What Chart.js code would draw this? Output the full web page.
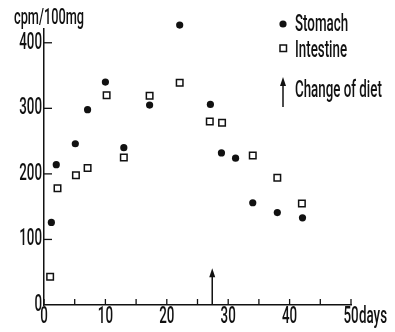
<!DOCTYPE html>
<html>
<head>
<meta charset="utf-8">
<script src="https://cdn.jsdelivr.net/npm/chart.js@4.4.0/dist/chart.umd.min.js"></script>
<style>
  body { margin: 0; background: #fff; }
</style>
</head>
<body>
<canvas id="myChart" width="395" height="332"></canvas>
<script>
// values
var stomachDays = [1.2, 2, 5.1, 7.1, 10, 13, 17.2, 22.1, 27.1, 28.9, 31.2, 34, 38, 42.1];
var stomachCpm  = [126, 214, 246, 298, 340, 240, 305, 427, 306, 232, 224, 156, 141, 133];
var intestineDays = [1, 2.2, 5.2, 7.1, 10.2, 13, 17.2, 22.1, 27, 29, 34, 38, 42];
var intestineCpm  = [43, 178, 198, 209, 320, 225, 319, 339, 280, 278, 228, 194, 155];

var yTicks = [0, 100, 200, 300, 400];
var xTicks = [0, 5, 10, 15, 20, 25, 30, 35, 40, 45, 50];
var xLabelled = [0, 10, 20, 30, 40, 50];

var dietChangeDay = 27.4;
var dietArrowTop = 56;

var yTitle = 'cpm/100mg';
var xUnit = 'days';
var legendLabels = ['Stomach', 'Intestine', 'Change of diet'];

var ink = '#111';

function toPoints(xs, ys) {
  return xs.map((x, i) => ({ x: x, y: ys[i] }));
}

// condensed text, the figure uses a narrow typeface
function narrowText(ctx, text, x, y, size, align) {
  ctx.save();
  ctx.font = '500 ' + size + 'px Roboto';
  ctx.fillStyle = ink;
  ctx.textBaseline = 'middle';
  ctx.textAlign = align;
  ctx.translate(x, y);
  ctx.scale(0.58, 1);
  ctx.fillText(text, 0, 0);
  ctx.restore();
}

function arrow(ctx, x, yBottom, yTop) {
  ctx.save();
  ctx.strokeStyle = ink;
  ctx.fillStyle = ink;
  ctx.lineWidth = 1.5;
  ctx.beginPath();
  ctx.moveTo(x, yBottom);
  ctx.lineTo(x, yTop + 6);
  ctx.stroke();
  ctx.beginPath();
  ctx.moveTo(x, yTop);
  ctx.lineTo(x - 3, yTop + 9);
  ctx.lineTo(x + 3, yTop + 9);
  ctx.closePath();
  ctx.fill();
  ctx.restore();
}

var figurePlugin = {
  id: 'figure',
  afterDraw(chart) {
    var ctx = chart.ctx;
    var xs = chart.scales.x, ys = chart.scales.y;
    var x0 = xs.getPixelForValue(0), y0 = ys.getPixelForValue(0);

    // inward tick marks
    ctx.save();
    ctx.strokeStyle = ink;
    ctx.lineWidth = 1.3;
    xTicks.forEach(v => {
      var px = xs.getPixelForValue(v);
      ctx.beginPath(); ctx.moveTo(px, y0); ctx.lineTo(px, y0 - 6); ctx.stroke();
    });
    yTicks.forEach(v => {
      if (v === 0) return;
      var py = ys.getPixelForValue(v);
      ctx.beginPath(); ctx.moveTo(x0, py); ctx.lineTo(x0 + 8, py); ctx.stroke();
    });
    ctx.restore();

    // tick labels
    yTicks.forEach(v => narrowText(ctx, String(v), x0 - 2, ys.getPixelForValue(v), 23, 'right'));
    xLabelled.forEach(v => narrowText(ctx, String(v), xs.getPixelForValue(v), y0 + 12, 23, 'center'));
    narrowText(ctx, xUnit, xs.getPixelForValue(50) + 8, y0 + 12, 23, 'left');
    narrowText(ctx, yTitle, 14, 18, 22, 'left');

    // change of diet arrow
    arrow(ctx, xs.getPixelForValue(dietChangeDay), y0, ys.getPixelForValue(dietArrowTop));

    // legend
    ctx.save();
    ctx.fillStyle = ink;
    ctx.beginPath(); ctx.arc(283, 24, 3.6, 0, Math.PI * 2); ctx.fill();
    ctx.strokeStyle = ink; ctx.lineWidth = 1.5;
    ctx.strokeRect(280, 45, 6.5, 6.5);
    ctx.restore();
    arrow(ctx, 283, 107, 77);
    narrowText(ctx, legendLabels[0], 295, 25, 23, 'left');
    narrowText(ctx, legendLabels[1], 295, 51, 23, 'left');
    narrowText(ctx, legendLabels[2], 295, 91, 23, 'left');
  }
};

var ctx = document.getElementById('myChart').getContext('2d');
var chart = new Chart(ctx, {
  type: 'scatter',
  data: {
    datasets: [{
      label: legendLabels[0],
      data: toPoints(stomachDays, stomachCpm),
      pointStyle: 'circle',
      pointRadius: 3.6,
      backgroundColor: ink,
      borderColor: ink,
      borderWidth: 0
    }, {
      label: legendLabels[1],
      data: toPoints(intestineDays, intestineCpm),
      pointStyle: 'rect',
      pointRadius: 4.6,
      backgroundColor: '#fff',
      borderColor: ink,
      borderWidth: 1.5
    }]
  },
  options: {
    responsive: false,
    animation: false,
    clip: false,
    layout: { padding: { top: 29, right: 44, left: 0, bottom: 0 } },
    plugins: { legend: { display: false }, tooltip: { enabled: false } },
    scales: {
      x: {
        type: 'linear',
        min: 0, max: 50,
        ticks: { display: false, stepSize: 5 },
        grid: { display: false },
        border: { display: true, color: ink, width: 1.5 },
        afterFit: (s) => { s.height = 27; }
      },
      y: {
        type: 'linear',
        min: 0, max: 421,
        ticks: { display: false, stepSize: 100 },
        grid: { display: false },
        border: { display: true, color: ink, width: 1.5 },
        afterFit: (s) => { s.width = 44; }
      }
    }
  },
  plugins: [figurePlugin]
});
</script>
</body>
</html>
